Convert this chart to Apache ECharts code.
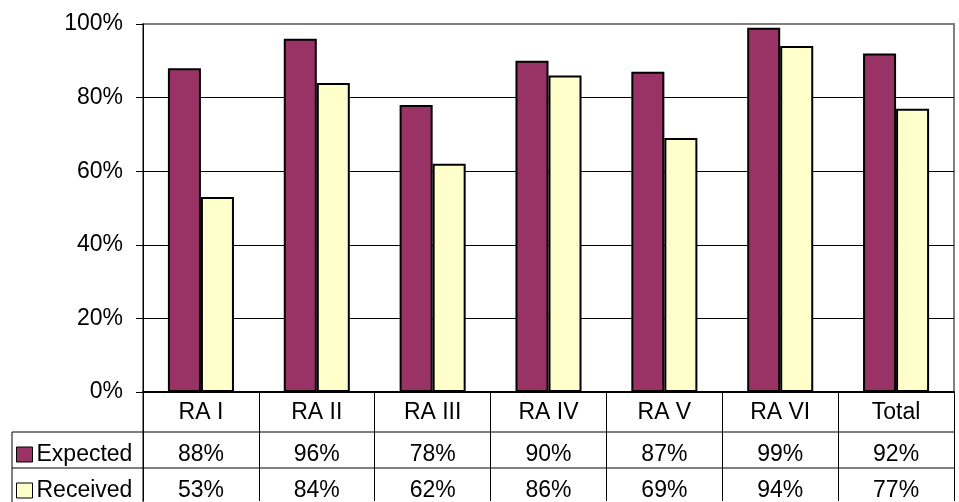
<!DOCTYPE html>
<html>
<head>
<meta charset="utf-8">
<script src="https://cdn.jsdelivr.net/npm/echarts@6/dist/echarts.min.js"></script>
<style>
  html, body { margin: 0; padding: 0; background: #fff; }
  #chart { width: 959px; height: 502px; }
</style>
</head>
<body>
<div id="chart"></div>
<script>
// Regional delivery rates
const categories = ['RA I', 'RA II', 'RA III', 'RA IV', 'RA V', 'RA VI', 'Total'];
const expected = [0.88, 0.96, 0.78, 0.90, 0.87, 0.99, 0.92];
const received = [0.53, 0.84, 0.62, 0.86, 0.69, 0.94, 0.77];
const seriesNames = ['Expected', 'Received'];

const FONT = '"Liberation Sans", Arial, sans-serif';
const pct = v => Math.round(v * 100) + '%';

// Layout of plot area and data table
const GRID = { left: 143, right: 5, top: 24, bottom: 109 };
const H = 502, W = 959;
const axisY = H - GRID.bottom;        // 0% line
const rowLines = [432, 468];           // table row separators
const tableLeft = 12;

const chart = echarts.init(document.getElementById('chart'), null, { renderer: 'canvas' });

function tableAxis(values, margin) {
  return {
    type: 'category',
    data: categories,
    position: 'bottom',
    axisLine: { show: false },
    axisTick: { show: false },
    splitLine: { show: false },
    axisLabel: {
      margin: margin,
      fontFamily: FONT,
      fontSize: 23,
      lineHeight: 23,
      color: '#000',
      formatter: (val, idx) => pct(values[idx])
    }
  };
}

// one legend entry per table row
function rowLegend(name, top) {
  return {
    orient: 'horizontal',
    left: 16,
    top: top,
    itemWidth: 16,
    itemHeight: 15,
    icon: 'rect',
    selectedMode: false,
    itemStyle: { borderColor: '#000', borderWidth: 1 },
    textStyle: { fontFamily: FONT, fontSize: 23, lineHeight: 23, color: '#000', padding: [0, 0, 0, -1] },
    padding: 0,
    data: [name]
  };
}

chart.setOption({
  animation: false,
  backgroundColor: '#fff',
  textStyle: { fontFamily: FONT },
  grid: {
    left: GRID.left, right: GRID.right, top: GRID.top, bottom: GRID.bottom,
    show: true, borderColor: '#808080', borderWidth: 2, backgroundColor: 'transparent'
  },
  legend: [rowLegend(seriesNames[0], 443), rowLegend(seriesNames[1], 479)],
  xAxis: [
    {
      type: 'category',
      data: categories,
      position: 'bottom',
      axisLine: { show: true, lineStyle: { color: '#000', width: 2 } },
      axisTick: { show: true, length: 109, lineStyle: { color: '#000', width: 1 } },
      axisLabel: {
        margin: 9, fontFamily: FONT, fontSize: 23, lineHeight: 23, color: '#000'
      }
    },
    tableAxis(expected, 51),
    tableAxis(received, 87)
  ],
  yAxis: {
    type: 'value',
    min: 0,
    max: 1,
    interval: 0.2,
    axisLine: { show: true, lineStyle: { color: '#000', width: 1 } },
    axisTick: { show: true, length: 7, lineStyle: { color: '#000', width: 1 } },
    splitLine: {
      show: true,
      lineStyle: { color: ['#000', '#000', '#000', '#000', '#000', '#808080'], width: 1 }
    },
    axisLabel: {
      margin: 20, fontFamily: FONT, fontSize: 23, color: '#000',
      formatter: v => pct(v)
    }
  },
  series: [
    {
      name: seriesNames[0],
      type: 'bar',
      data: expected,
      barGap: '0%',
      barCategoryGap: '43%',
      itemStyle: { color: '#993366', borderColor: '#000', borderWidth: 2 }
    },
    {
      name: seriesNames[1],
      type: 'bar',
      data: received,
      barGap: '0%',
      barCategoryGap: '43%',
      itemStyle: { color: '#FFFFCC', borderColor: '#000', borderWidth: 2 }
    }
  ],
  graphic: [
    // table row rules
    ...rowLines.map(y => ({
      type: 'line',
      shape: { x1: tableLeft, y1: y, x2: W - GRID.right, y2: y },
      style: { stroke: '#000', lineWidth: 1 },
      z: 10
    })),
    // left edge of the legend column
    {
      type: 'line',
      shape: { x1: tableLeft, y1: rowLines[0], x2: tableLeft, y2: H },
      style: { stroke: '#000', lineWidth: 1 },
      z: 10
    },
    // legend column right edge
    {
      type: 'line',
      shape: { x1: GRID.left, y1: axisY, x2: GRID.left, y2: H },
      style: { stroke: '#000', lineWidth: 1 },
      z: 10
    }
  ]
});
</script>
</body>
</html>
